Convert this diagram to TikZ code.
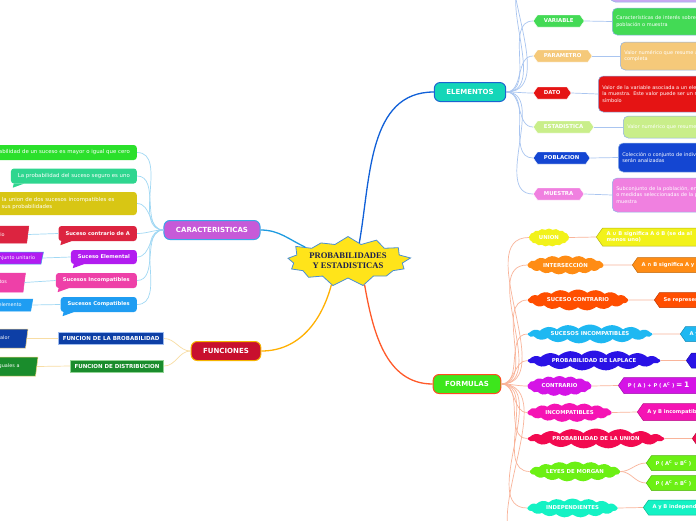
\documentclass[tikz,border=0pt]{standalone}
\usepackage{fontspec}
\setmainfont{DejaVu Sans}
\newfontfamily\titlefont{Liberation Serif}
\usepackage{tikz}
\usetikzlibrary{shapes.symbols,shapes.geometric}
\newcommand\fz[2]{\fontsize{#1}{#2}\selectfont}
\definecolor{burstc}{HTML}{FFE41A}
\definecolor{burstln}{HTML}{4A8FD4}
\definecolor{titlec}{HTML}{1B1F4D}
\definecolor{carac}{HTML}{C65AD8}
\definecolor{caraln}{HTML}{3AA6E8}
\definecolor{caracon}{HTML}{1E9BE0}
\definecolor{caralink}{HTML}{A0D8F4}
\definecolor{sgreen}{HTML}{2BE02B}
\definecolor{steal}{HTML}{2FD68F}
\definecolor{solive}{HTML}{D8C614}
\definecolor{sred}{HTML}{DC2440}
\definecolor{spurple}{HTML}{B21CF0}
\definecolor{spink}{HTML}{EE40A8}
\definecolor{sblue}{HTML}{1F9DF2}
\definecolor{funcc}{HTML}{C8102E}
\definecolor{funcln}{HTML}{F5B400}
\definecolor{funccon}{HTML}{FFB000}
\definecolor{funclink}{HTML}{F8DDA4}
\definecolor{fblue}{HTML}{0D3FA6}
\definecolor{fgreen}{HTML}{1A8C2C}
\definecolor{fblueln}{HTML}{9DBBEF}
\definecolor{fgreenln}{HTML}{92D494}
\definecolor{pbord}{HTML}{F2D27A}
\definecolor{elemc}{HTML}{14D6B8}
\definecolor{elemln}{HTML}{1C64D0}
\definecolor{elemcon}{HTML}{1060D8}
\definecolor{elemlink}{HTML}{A9C5F0}
\definecolor{cvar}{HTML}{43DA55}
\definecolor{cpar}{HTML}{F5C97A}
\definecolor{cdat}{HTML}{E51414}
\definecolor{cest}{HTML}{C9EE8A}
\definecolor{cpob}{HTML}{1446D2}
\definecolor{cmue}{HTML}{F080E0}
\definecolor{ctop}{HTML}{C9A8F2}
\definecolor{formc}{HTML}{3DE61C}
\definecolor{formln}{HTML}{FF4A20}
\definecolor{formcon}{HTML}{FF5A2A}
\definecolor{formlink}{HTML}{F9B49A}
\definecolor{kun}{HTML}{F2F21A}
\definecolor{kint}{HTML}{FF8C14}
\definecolor{ksco}{HTML}{FF4E00}
\definecolor{ksin}{HTML}{1EB8F2}
\definecolor{klap}{HTML}{2A12E6}
\definecolor{kcon}{HTML}{D514E6}
\definecolor{kinc}{HTML}{F514B4}
\definecolor{kpun}{HTML}{F20A50}
\definecolor{kmor}{HTML}{6CF014}
\definecolor{kind}{HTML}{14F2C4}
\tikzset{
  cn/.style={line width=1.3pt},
  twig/.style={line width=0.7pt},
  burst/.style={starburst,starburst points=13,starburst point height=9pt,random starburst=60,fill=burstc,draw=burstln,line width=0.8pt,font=\titlefont\bfseries\fz{8.6}{10},text=titlec,align=center,minimum width=120pt,minimum height=52pt,inner sep=0pt},
  hub/.style={draw,line width=1pt,rounded corners=6pt,text=white,font=\bfseries\fz{7}{8},minimum height=19pt,inner xsep=12pt,inner ysep=2pt},
  bub/.style={fill=#1,rounded corners=3pt,anchor=east,text=white,inner xsep=7pt,inner ysep=2pt,minimum height=15pt},
  slant/.style={trapezium,trapezium left angle=70,trapezium right angle=110,trapezium stretches body,fill=#1,text=white,font=\fz{4.9}{6.4},text width=150pt,align=right,anchor=east,minimum height=15pt,inner ysep=1pt,line width=0.5pt},
  fbox/.style={fill=#1,text=white,font=\bfseries\fz{5.5}{6.5},minimum height=12pt,inner xsep=4pt,inner ysep=1pt,anchor=east,line width=1pt},
  chev/.style={signal,signal to=east and west,signal pointer angle=110,fill=#1,draw=white,line width=0.4pt,text=white,font=\bfseries\fz{5.4}{6.4},minimum height=12pt,inner xsep=6.5pt,inner ysep=1pt,anchor=west},
  desc/.style={fill=#1,draw=elemln!50,line width=0.5pt,rounded corners=5pt,text=white,font=\fz{5}{6.6},align=left,anchor=west,text width=200pt,inner sep=4pt},
  puff/.style={cloud,cloud puffs=17,cloud puff arc=80,cloud ignores aspect,fill=#1,text=white,font=\bfseries\fz{5.4}{6.4},inner sep=0pt},
  tip/.style={signal,signal to=west,signal pointer angle=110,fill=#1,draw=#1!75!black,line width=0.5pt,text=white,font=\bfseries\fz{5.2}{6.4},anchor=west,text width=120pt,align=left,minimum height=15pt,inner xsep=4pt,inner ysep=1pt}
}
\begin{document}
\begin{tikzpicture}[x=1pt,y=-1pt]
\useasboundingbox (0,0) rectangle (696,520);
\clip (0,0) rectangle (696,520);
\fill[white] (0,0) rectangle (696,520);

\node[burst] (core) at (348,261) {PROBABILIDADES\\Y ESTADISTICAS};

\node[hub,fill=carac,draw=caraln] (cara) at (212,230) {CARACTERISTICAS};
\node[hub,fill=funcc,draw=funcln] (func) at (226,351) {FUNCIONES};
\node[hub,fill=elemc,draw=elemln] (elem) at (470,92) {ELEMENTOS};
\node[hub,fill=formc,draw=formln] (form) at (467,384) {FORMULAS};

\draw[cn,caracon] (cara.east) to[out=0,in=155] (core.162);
\draw[cn,funccon] (core.-125) to[out=-105,in=0] (func.east);
\draw[cn,elemcon] (core.58) to[out=80,in=180] (elem.west);
\draw[cn,formcon] (core.-55) to[out=-80,in=180] (form.west);

% caracteristicas
\node[bub=sgreen,font=\fz{5.4}{6.4}] (c1) at (137,152.5) {La probabilidad de un suceso es mayor o igual que cero};
\node[bub=steal,font=\fz{5.4}{6.4}] (c2) at (137,176) {La probabilidad del suceso seguro es uno};
\node[bub=solive,font=\fz{5.4}{6.6},text width=180pt,align=left,minimum height=23pt] (c3) at (137,203.5) {La probabilidad de la union de dos sucesos incompatibles es\\igual a la suma de sus probabilidades};
\node[bub=sred,font=\bfseries\fz{5.2}{6.4}] (c4) at (137,233.5) {Suceso contrario de A};
\node[bub=spurple,font=\bfseries\fz{5.2}{6.4},minimum height=14pt] (c5) at (137,257) {Suceso Elemental};
\node[bub=spink,font=\bfseries\fz{5.2}{6.4}] (c6) at (137,280.5) {Sucesos Incompatibles};
\node[bub=sblue,font=\bfseries\fz{5.2}{6.4}] (c7) at (137,304.5) {Sucesos Compatibles};
\foreach \n/\c in {c1/sgreen,c2/steal,c3/solive,c4/sred,c5/spurple,c6/spink,c7/sblue}
  \fill[\c] ([xshift=3pt]\n.south west) -- ([xshift=2pt,yshift=-4pt]\n.south west) -- ([xshift=13pt]\n.south west) -- cycle;

\node[slant=sred,draw=sred,inner xsep=22pt,minimum height=17pt] (p4) at (28,234.5) {Es el suceso contrario};
\node[slant=spurple,draw=caraln,inner xsep=6pt,minimum height=12pt] (p5) at (42.5,258) {Es un conjunto unitario};
\node[slant=spink,draw=spink,inner xsep=16pt,minimum height=19pt] (p6) at (24.5,282.5) {Son sucesos disjuntos};
\node[slant=sblue,draw=sblue,inner xsep=9pt,minimum height=12pt] (p7) at (32,305) {Tienen al menos un elemento};

\foreach \n in {c1,c2,c3,c4,c5,c6,c7}
  \draw[twig,caralink] (cara.west) to[out=180,in=0] (\n.east);
\draw[twig,caralink] (c4.west) -- (p4.east);
\draw[twig,caralink] (c5.west) -- (p5.east);
\draw[twig,caralink] (c6.west) -- (p6.east);
\draw[twig,caralink] (c7.west) -- (p7.east);

% funciones
\node[fbox=fblue,draw=fblueln] (f1) at (164,338.5) {FUNCION DE LA BROBABILIDAD};
\node[fbox=fgreen,draw=fgreenln] (f2) at (164,366) {FUNCION DE DISTRIBUCION};
\node[slant=fblue,draw=pbord,inner xsep=16pt,minimum height=19pt] (g1) at (27,338.5) {Asigna una probabilidad a cada valor};
\node[slant=fgreen,draw=pbord,inner xsep=16pt,minimum height=19pt] (g2) at (37,366.5) {Probabilidad de valores menores o iguales a};
\draw[twig,funclink] (func.west) to[out=180,in=0] (f1.east);
\draw[twig,funclink] (func.west) to[out=180,in=0] (f2.east);
\draw[twig,funclink] (f1.west) -- (g1.east);
\draw[twig,funclink] (f2.west) -- (g2.east);

% elementos
\coordinate (etop1) at (533,-22);
\coordinate (etop2) at (533,-60);
\node[desc=ctop,minimum height=30pt] (topd) at (610,-13) {};
\node[chev=cvar] (var) at (533,21) {VARIABLE};
\node[chev=cpar] (par) at (533,56) {PARAMETRO};
\node[chev=cdat] (dat) at (533,93) {DATO};
\node[chev=cest] (est) at (533,127) {ESTADISTICA};
\node[chev=cpob] (pob) at (533,158) {POBLACION};
\node[chev=cmue] (mue) at (533,194) {MUESTRA};
\node[desc=cvar,minimum height=27pt] (vard) at (612,21.5) {Características de interés sobre una\\población o muestra};
\node[desc=cpar,minimum height=28pt] (pard) at (620,56) {Valor numérico que resume a una población\\completa};
\node[desc=cdat,minimum height=36pt] (datd) at (598,94) {Valor de la variable asociada a un elemento de\\la muestra. Este valor puede ser un número o un\\símbolo};
\node[desc=cest,minimum height=22pt] (estd) at (623,127) {Valor numérico que resume a una muestra};
\node[desc=cpob,minimum height=29pt] (pobd) at (618,157.5) {Colección o conjunto de individuos cuyas propiedades\\serán analizadas};
\node[desc=cmue,minimum height=34pt] (mued) at (612,195) {Subconjunto de la población, en el que se hacen observaciones\\o medidas seleccionadas de la población\\muestra};
\draw[twig,elemlink] (elem.east) to[out=0,in=180] (etop1);
\draw[twig,elemlink] (elem.east) to[out=0,in=180] (etop2);
\foreach \n in {var,par,dat,est,pob,mue}{
  \draw[twig,elemlink] (elem.east) to[out=0,in=180] (\n.west);
  \draw[twig,elemlink] (\n.east) -- (\n d.west);
}

% formulas
\coordinate (fbot) at (530,548);
\node[puff=kun,minimum width=40pt,minimum height=18pt] (un) at (549,237.5) {UNION};
\node[puff=kint,minimum width=76pt,minimum height=19pt] (int) at (565.5,265) {INTERSECCIÓN};
\node[puff=ksco,minimum width=100pt,minimum height=21pt] (sco) at (578,300) {SUCESO CONTRARIO};
\node[puff=ksin,minimum width=124pt,minimum height=19pt] (sin) at (590,334) {SUCESOS INCOMPATIBLES};
\node[puff=klap,minimum width=132pt,minimum height=20pt] (lap) at (594,360.5) {PROBABILIDAD DE LAPLACE};
\node[puff=kcon,minimum width=64pt,minimum height=20pt] (con) at (559.5,386) {CONTRARIO};
\node[puff=kinc,minimum width=84pt,minimum height=19pt] (inc) at (569.5,412.5) {INCOMPATIBLES};
\node[puff=kpun,minimum width=136pt,minimum height=20pt] (pun) at (596,438.5) {PROBABILIDAD DE LA UNION};
\node[puff=kmor,minimum width=90pt,minimum height=20pt] (mor) at (575,471.5) {LEYES DE MORGAN};
\node[puff=kind,minimum width=90pt,minimum height=19pt] (ind) at (572.5,508) {INDEPENDIENTES};

\node[tip=kun,minimum height=18pt] (und) at (596,237) {A ∪ B significa A ó B (se da al\\menos uno)};
\node[tip=kint] (intd) at (632,265) {A ∩ B significa A y B};
\node[tip=ksco] (scod) at (654,300) {Se representa};
\node[tip=ksin] (sind) at (680,334) {A y B};
\node[tip=klap] (lapd) at (686,360.5) {};
\node[tip=kcon,minimum height=16pt] (cond) at (618,385.5) {P ( A ) + P ( A\textsuperscript{C} ) {\fz{7.5}{8}= 1}};
\node[tip=kinc,minimum height=17pt] (incd) at (637,412) {A y B incompatibles};
\node[tip=kpun] (pund) at (692,438.5) {};
\node[tip=kmor] (mor1) at (646,463) {P ( A\textsuperscript{C} ∪ B\textsuperscript{C} )};
\node[tip=kmor] (mor2) at (646,483) {P ( A\textsuperscript{C} ∩ B\textsuperscript{C} )};
\node[tip=kind] (indd) at (643,507.5) {A y B independientes};

\foreach \n in {un,int,sco,sin,lap,con,inc,pun,mor,ind}
  \draw[twig,formlink] (form.east) to[out=0,in=180] (\n.west);
\draw[twig,formlink] (form.east) to[out=0,in=180] (fbot);
\foreach \n in {un,int,sco,sin,lap,con,inc,pun,ind}
  \draw[twig,formlink] (\n.east) -- (\n d.west);
\draw[twig,formlink] (mor.east) to[out=0,in=180] (mor1.west);
\draw[twig,formlink] (mor.east) to[out=0,in=180] (mor2.west);
\end{tikzpicture}
\end{document}
